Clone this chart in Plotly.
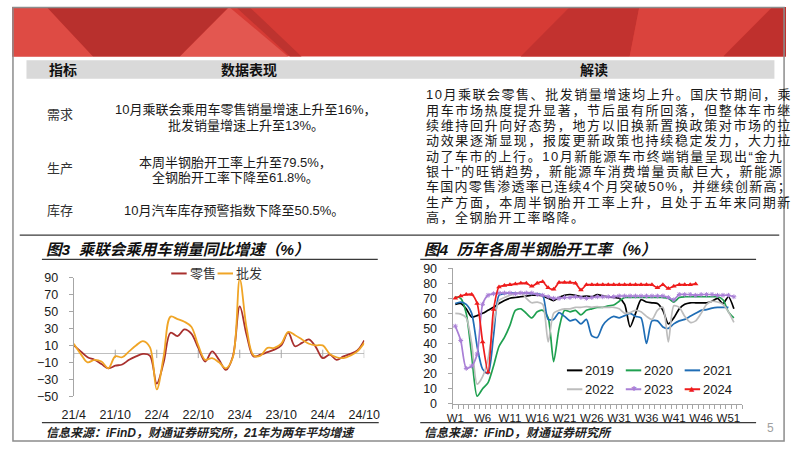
import plotly.graph_objects as go

W, H = 802, 451
FONT = "Liberation Sans, Noto Sans CJK SC, sans-serif"


def px(x):
    return x / W


def py(y):
    return 1 - y / H


# ---------------- data: figure 3 (monthly, %) ----------------
months = ["21/4", "21/5", "21/6", "21/7", "21/8", "21/9", "21/10", "21/11", "21/12",
          "22/1", "22/2", "22/3", "22/4", "22/5", "22/6", "22/7", "22/8", "22/9", "22/10", "22/11", "22/12",
          "23/1", "23/2", "23/3", "23/4", "23/5", "23/6", "23/7", "23/8", "23/9", "23/10", "23/11", "23/12",
          "24/1", "24/2", "24/3", "24/4", "24/5", "24/6", "24/7", "24/8", "24/9", "24/10"]
retail = [10, 3, -4, -7, -12, -17, -14, -12.5, -7,
          -3, 0, -2, -35, -10, 25, 21, 29, 24, 7, -9, 3,
          -7, -19, -3, 56, 22, -3, -1, 2, 5, 10, 25, 9,
          13, 17, 8, -5, -1, -7, -3, 0, 4, 16]
wholesale = [12, 0, -10, -7, -9, -17, -3, -4, 3,
             10, 15, 8, -42, -3, 44, 41, 38, 32, 10, -7, -5,
             -10, -17, -4, 88, 30, -2, -2, 7, 7, 12, 26, 22,
             17, 12, 10, 10, 0, -4, -5, -2, 3, 13]
month_ticks = ["21/4", "21/10", "22/4", "22/10", "23/4", "23/10", "24/4", "24/10"]
fig3_names = ["零售", "批发"]
fig3_colors = ["#A8302E", "#F0A526"]

# ---------------- data: figure 4 (weekly, %) ----------------
week_ticks = [1, 6, 11, 16, 21, 26, 31, 36, 41, 46, 51]
week_tick_text = ["W1", "W6", "W11", "W16", "W21", "W26", "W31", "W36", "W41", "W46", "W51"]
y2019 = [66, 66.5, 63, 57.5, 58.5, 60, 62, 64, 66.5, 68.5, 70, 70.5, 71, 71.5, 72, 72, 71.5, 70, 68.5, 70.5,
         72, 72.5, 72, 71, 71.5, 71, 72.5, 71.5, 71, 70.5, 70, 66, 51, 60, 69, 67.5, 67, 66.5, 62, 53,
         57, 63, 66, 67, 67, 67, 67, 68, 70, 66.5, 71, 63]
y2020 = [71, 70, 60, 32, 5, 10, 14, 25, 38, 44, 52, 62, 63, 60, 57, 61, 62, 57, 28, 50,
         62, 61, 62, 59, 62, 63, 64, 64, 65, 65.5, 68, 70.5, 70.5, 70.5, 70.5, 70.5, 70.5, 70.5, 70.5, 70,
         67.5, 70.5, 71, 71, 71, 71, 71, 71, 71, 69, 61, 57]
y2021 = [66.5, 67.5, 66, 60, 38, 23, 20, 45, 72, 73, 73.5, 73.5, 73.5, 73.5, 73, 73, 72, 56, 56, 60.5,
         58, 55, 56, 53, 56, 45, 44, 52, 56, 58, 57, 58.5, 60, 58, 57, 40, 55, 55, 51, 50,
         53, 55, 56, 58, 60, 62, 62.5, 63.5, 64, 64, 64]
y2022 = [60, 59.5, 57, 40, 13, 18, 30, 53, 68.5, 70.5, 72, 73, 74, 70, 67, 67.5, 66, 41, 60, 62,
         63, 63, 64, 64, 64.5, 64, 64.5, 64, 64, 64, 63, 60, 60.5, 62, 61, 58, 56, 62, 64, 41,
         65, 64, 58, 54, 55, 60, 66, 68, 67.5, 66, 61, 54]
y2023 = [51.5, 42, 23.5, 25, 33, 66, 72, 73, 73.5, 73.5, 73.5, 73, 73.5, 73.5, 73.5, 72.5, 72, 71, 70, 70,
         70.5, 70.5, 71, 70.5, 70, 70.5, 71, 71, 71, 71, 71.5, 71.5, 71.5, 71.5, 71.5, 71.5, 71.5, 71.5, 71.5, 70.5,
         69, 72.5, 72.5, 72.5, 72, 72.5, 72.5, 72.5, 72, 72, 72, 71]
y2024 = [70, 71.5, 72.5, 72.5, 66.5, 41, 21, 62.5, 77.5, 78.5, 79, 79.5, 80, 80, 78, 80, 81, 77, 76, 80.5,
         80.5, 80.5, 80, 75.5, 79, 79, 79, 79, 79, 79, 79, 79, 79, 79, 79, 79, 79, 77, 79, 76.5,
         78, 79, 79, 79, 79.5]
years = ["2019", "2020", "2021", "2022", "2023", "2024"]
year_series = [y2019, y2020, y2021, y2022, y2023, y2024]
year_colors = ["#000000", "#1FA050", "#1F6DB5", "#BDBDBD", "#A97FD6", "#EE1C1C"]

# ---------------- text ----------------
table_header = ["指标", "数据表现", "解读"]
rows = [
    ("需求", 111, [("10月乘联会乘用车零售销量增速上升至16%，", 106, 242), ("批发销量增速上升至13%。", 122, 242)]),
    ("生产", 167, [("本周半钢胎开工率上升至79.5%，", 160, 232), ("全钢胎开工率下降至61.8%。", 176, 232)]),
    ("库存", 210.5, [("10月汽车库存预警指数下降至50.5%。", 210.5, 230)]),
]
para = [
    "10月乘联会零售、批发销量增速均上升。国庆节期间，乘",
    "用车市场热度提升显著，节后虽有所回落，但整体车市继",
    "续维持回升向好态势，地方以旧换新置换政策对市场的拉",
    "动效果逐渐显现，报废更新政策也持续稳定发力，大力拉",
    "动了车市的上行。10月新能源车市终端销量呈现出“金九",
    "银十”的旺销趋势，新能源车消费增量贡献巨大，新能源",
    "车国内零售渗透率已连续4个月突破50%，并继续创新高；",
    "生产方面，本周半钢胎开工率上升，且处于五年来同期新",
    "高，全钢胎开工率略降。",
]
title3 = "图3  乘联会乘用车销量同比增速（%）"
title4 = "图4  历年各周半钢胎开工率（%）"
source3 = "信息来源：iFinD，财通证券研究所，21年为两年平均增速"
source4 = "信息来源：iFinD，财通证券研究所"

fig = go.Figure()

# figure 3 traces
fig.add_trace(go.Scatter(x=month_ticks, y=[0] * len(month_ticks), mode="markers", xaxis="x", yaxis="y",
                         marker=dict(symbol="line-ns", size=6, line=dict(width=1, color="#A6A6A6")),
                         hoverinfo="skip", showlegend=False))
for name, vals, col in zip(fig3_names, [retail, wholesale], fig3_colors):
    fig.add_trace(go.Scatter(x=months, y=vals, name=name, mode="lines", xaxis="x", yaxis="y",
                             line=dict(color=col, width=1.8, shape="spline", smoothing=1.0),
                             showlegend=False))

# figure 4 traces
for i, (name, vals, col) in enumerate(zip(years, year_series, year_colors)):
    weeks = list(range(1, len(vals) + 1))
    kw = dict(mode="lines")
    if name == "2023":
        kw = dict(mode="lines+markers",
                  marker=dict(symbol="asterisk-open", size=4, line=dict(width=1, color=col), color=col))
    if name == "2024":
        kw = dict(mode="lines+markers", marker=dict(symbol="triangle-up", size=5, color=col))
    fig.add_trace(go.Scatter(x=weeks, y=vals, name=name, xaxis="x2", yaxis="y2",
                             line=dict(color=col, width=1.7, shape="spline", smoothing=0.7),
                             showlegend=False, **kw))

# ---------------- shapes ----------------
shapes = []


def poly(points, fill, layer="below"):
    d = "M " + " L ".join(f"{px(x):.5f},{py(y):.5f}" for x, y in points) + " Z"
    shapes.append(dict(type="path", path=d, xref="paper", yref="paper", fillcolor=fill,
                       line=dict(width=0), layer=layer))


def hline(x0, x1, y, color="#3A3A3A", width=1.3):
    shapes.append(dict(type="line", xref="paper", yref="paper", x0=px(x0), x1=px(x1), y0=py(y), y1=py(y),
                       line=dict(color=color, width=width)))


# banner
poly([(0, 0), (802, 0), (802, 51), (0, 51)], "#D63B35")
poly([(0, 0), (36, 0), (84, 51), (0, 51)], "#DE4B44")
poly([(36, 0), (225, 0), (174, 51), (84, 51)], "#B8302D")
poly([(225, 0), (286, 51), (174, 51)], "#E35750")
poly([(232, 0), (246, 0), (300, 51), (288, 51)], "#BD332F")
poly([(578, 0), (650, 0), (640, 51), (527, 51)], "#C2322F")
poly([(650, 0), (788, 0), (737, 51), (640, 51)], "#DA433D")
poly([(788, 0), (802, 0), (802, 51), (737, 51)], "#BF302D")
# table header band
poly([(15, 55), (790, 55), (790, 74), (15, 74)], "#D9D9D9")
# frame
shapes.append(dict(type="rect", xref="paper", yref="paper", x0=px(1), x1=px(800), y0=py(448), y1=py(0.5),
                   line=dict(color="#8C8C8C", width=1.5), fillcolor="rgba(0,0,0,0)", layer="above"))
# chart separator lines
hline(8, 795, 235.5)
hline(31, 379, 260.5)
hline(423, 771, 260.5)
hline(31, 380, 429)
hline(423, 771, 429)

# legends (manual, in chart style)
for i, (name, col) in enumerate(zip(fig3_names, fig3_colors)):
    x0 = 165 + 48 * i
    shapes.append(dict(type="line", xref="paper", yref="paper", x0=px(x0), x1=px(x0 + 16), y0=py(275), y1=py(275),
                       line=dict(color=col, width=2)))
for i, (name, col) in enumerate(zip(years, year_colors)):
    r, c = divmod(i, 3)
    x0 = 575 + 61 * c
    y0 = 375 + 19.5 * r
    shapes.append(dict(type="line", xref="paper", yref="paper", x0=px(x0), x1=px(x0 + 16), y0=py(y0), y1=py(y0),
                       line=dict(color=col, width=2)))

# ---------------- annotations ----------------
ann = []


def txt(x, y, s, size=13, color="#1A1A1A", xanchor="center", weight="normal", style="normal", family=FONT):
    ann.append(dict(x=px(x), y=py(y), xref="paper", yref="paper", text=s, showarrow=False,
                    xanchor=xanchor, yanchor="middle",
                    font=dict(family=family, size=size, color=color, weight=weight, style=style)))


# header
for s, x in zip(table_header, [53, 246, 603]):
    txt(x, 65, s, size=14, weight="bold", color="#111111")
# left rows
for label, ly, lines in rows:
    txt(50, ly, label, size=13, color="#333333")
    for s, yy, cx in lines:
        txt(cx, yy, s, size=13, color="#1A1A1A")


# right paragraph, justified by letter spacing
def est_width(s, size):
    w = 0.0
    for ch in s:
        if ord(ch) < 128:
            w += 0.889 if ch == "%" else 0.556
        else:
            w += 1.0
    return w * size


for i, s in enumerate(para):
    size = 13
    if i < len(para) - 1:
        ls = max(0.0, (366 - est_width(s, size)) / len(s))
    else:
        ls = 1.5
    txt(427, 90.5 + 15.9 * i, f'<span style="letter-spacing:{ls:.2f}px">{s}</span>', size=size,
        xanchor="left", color="#1A1A1A")

# chart titles / sources
txt(33, 250, title3, size=15.5, weight="bold", style="italic", xanchor="left", color="#111111")
txt(425, 250.5, title4, size=15.5, weight="bold", style="italic", xanchor="left", color="#111111")
txt(33, 440, source3, size=12, weight="bold", style="italic", xanchor="left", color="#222222")
txt(425, 440, source4, size=12, weight="bold", style="italic", xanchor="left", color="#222222")
txt(786, 434, "5", size=12, color="#A0A0A0")

# legend labels
for i, (name, col) in enumerate(zip(fig3_names, fig3_colors)):
    txt(165 + 48 * i + 17, 275, name, size=13, xanchor="left", color="#333333")
for i, (name, col) in enumerate(zip(years, year_colors)):
    r, c = divmod(i, 3)
    x0 = 575 + 61 * c
    y0 = 375 + 19.5 * r
    txt(x0 + 17, y0, name, size=13, xanchor="left", color="#1A1A1A")
    if name == "2023":
        txt(x0 + 8, y0, "✱", size=7, color=col, family="DejaVu Sans")
    if name == "2024":
        txt(x0 + 8, y0, "▲", size=7, color=col, family="DejaVu Sans")

# ---------------- layout ----------------
axis_gray = "#A6A6A6"
fig.update_layout(
    width=W, height=H, margin=dict(l=0, r=0, t=0, b=0),
    paper_bgcolor="white", plot_bgcolor="rgba(0,0,0,0)",
    font=dict(family=FONT, size=12, color="#1A1A1A"),
    showlegend=False,
    shapes=shapes, annotations=ann,
    xaxis=dict(domain=[px(64), px(365)], type="category", categoryorder="array", categoryarray=months,
               range=[0, len(months) - 1], tickmode="array", tickvals=month_ticks, ticktext=month_ticks,
               showline=False, ticks="", showgrid=False, zeroline=False, ticklabelstandoff=9, tickangle=0,
               tickfont=dict(size=12.5, color="#1A1A1A"), fixedrange=True),
    yaxis=dict(domain=[py(401.7), py(279.3)], range=[-50, 90], tick0=-50, dtick=20, tickmode="linear",
               showline=True, linecolor=axis_gray, linewidth=1, ticks="outside", ticklen=4, tickcolor=axis_gray,
               showgrid=False, zeroline=True, zerolinecolor="#BFBFBF", zerolinewidth=1,
               ticklabelstandoff=8, tickfont=dict(size=12.5, color="#1A1A1A")),
    xaxis2=dict(domain=[px(456.5), px(756.5)], range=[0.5, 53.5], tickmode="array", tickvals=week_ticks,
                ticktext=week_tick_text, ticks="", showline=True, linecolor=axis_gray, linewidth=1, tickangle=0,
                minor=dict(tickmode="array", tickvals=[w + 0.5 for w in range(0, 54)], ticks="outside",
                           ticklen=4, tickcolor=axis_gray),
                showgrid=False, zeroline=False, anchor="y2", ticklabelstandoff=3,
                tickfont=dict(size=11.5, color="#1A1A1A")),
    yaxis2=dict(domain=[py(409.5), py(269.5)], range=[0, 90], tick0=0, dtick=10, tickmode="linear",
                showline=True, linecolor=axis_gray, linewidth=1, ticks="outside", ticklen=4, tickcolor=axis_gray,
                showgrid=False, zeroline=False, anchor="x2", ticklabelstandoff=8,
                tickfont=dict(size=12.5, color="#1A1A1A")),
)

fig.write_html("out.html")
